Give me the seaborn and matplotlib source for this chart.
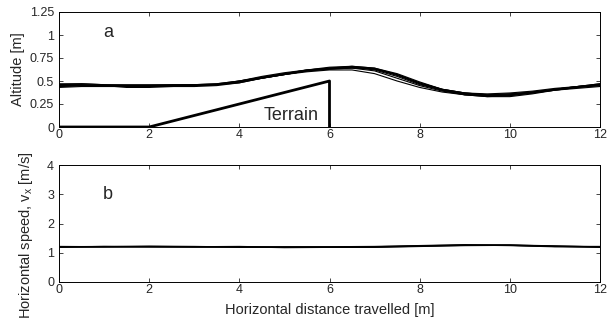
import matplotlib
matplotlib.use("Agg")
import matplotlib.pyplot as plt
import seaborn as sns
import pandas as pd

# ---- data ----
x_alt = [0, 0.5, 1, 1.5, 2, 2.5, 3, 3.5, 4, 4.5, 5, 5.5, 6, 6.5, 7, 7.5, 8, 8.5, 9, 9.5, 10, 10.5, 11, 11.5, 12]
alt_run1 = [0.45, 0.46, 0.45, 0.44, 0.44, 0.45, 0.45, 0.46, 0.49, 0.54, 0.58, 0.62, 0.64, 0.65, 0.63, 0.56, 0.47, 0.40, 0.36, 0.34, 0.35, 0.38, 0.41, 0.43, 0.46]
alt_run2 = [0.47, 0.47, 0.46, 0.46, 0.46, 0.46, 0.46, 0.47, 0.50, 0.54, 0.58, 0.61, 0.63, 0.64, 0.63, 0.57, 0.48, 0.41, 0.37, 0.35, 0.36, 0.38, 0.41, 0.44, 0.47]
alt_run3 = [0.44, 0.45, 0.45, 0.43, 0.43, 0.44, 0.44, 0.45, 0.48, 0.53, 0.57, 0.61, 0.63, 0.64, 0.61, 0.53, 0.45, 0.39, 0.35, 0.33, 0.34, 0.37, 0.40, 0.43, 0.45]
alt_run4 = [0.46, 0.47, 0.46, 0.45, 0.45, 0.46, 0.46, 0.46, 0.49, 0.53, 0.57, 0.61, 0.64, 0.66, 0.64, 0.58, 0.49, 0.41, 0.37, 0.35, 0.36, 0.38, 0.41, 0.44, 0.46]
alt_run5 = [0.43, 0.44, 0.44, 0.44, 0.44, 0.44, 0.45, 0.46, 0.49, 0.53, 0.57, 0.60, 0.62, 0.62, 0.58, 0.50, 0.43, 0.38, 0.35, 0.34, 0.35, 0.37, 0.40, 0.42, 0.44]
alt_run6 = [0.46, 0.46, 0.45, 0.45, 0.44, 0.45, 0.45, 0.46, 0.50, 0.55, 0.59, 0.62, 0.65, 0.66, 0.64, 0.57, 0.47, 0.40, 0.35, 0.33, 0.33, 0.36, 0.40, 0.43, 0.45]
alt_run7 = [0.45, 0.45, 0.45, 0.44, 0.45, 0.45, 0.46, 0.47, 0.50, 0.54, 0.58, 0.62, 0.64, 0.65, 0.62, 0.55, 0.46, 0.40, 0.36, 0.34, 0.34, 0.37, 0.41, 0.44, 0.47]
alt_run8 = [0.44, 0.45, 0.45, 0.45, 0.45, 0.45, 0.45, 0.46, 0.48, 0.53, 0.57, 0.61, 0.63, 0.65, 0.63, 0.57, 0.48, 0.41, 0.37, 0.36, 0.37, 0.39, 0.42, 0.44, 0.46]
alt_runs = [alt_run1, alt_run2, alt_run3, alt_run4, alt_run5, alt_run6, alt_run7, alt_run8]

terrain_x = [0, 2, 6, 6]
terrain_y = [0, 0, 0.5, 0]

x_spd = [0, 1, 2, 3, 4, 5, 6, 7, 8, 9, 10, 11, 12]
spd_run1 = [1.20, 1.21, 1.21, 1.20, 1.20, 1.19, 1.19, 1.20, 1.23, 1.26, 1.26, 1.22, 1.20]
spd_run2 = [1.21, 1.20, 1.22, 1.21, 1.19, 1.20, 1.20, 1.21, 1.24, 1.27, 1.25, 1.21, 1.21]
spd_run3 = [1.19, 1.21, 1.20, 1.20, 1.21, 1.18, 1.19, 1.19, 1.22, 1.25, 1.26, 1.23, 1.19]
spd_runs = [spd_run1, spd_run2, spd_run3]

xticks = [0, 2, 4, 6, 8, 10, 12]
alt_ticks = [0, 0.25, 0.5, 0.75, 1, 1.25]
alt_ticklabels = ["0", "0.25", "0.5", "0.75", "1", "1.25"]
spd_ticks = [0, 1, 2, 3, 4]

# ---- styling ----
sns.set_style("white")
plt.rcParams["font.family"] = ["Liberation Sans", "DejaVu Sans"]
plt.rcParams["xtick.direction"] = "in"
plt.rcParams["ytick.direction"] = "in"
plt.rcParams["mathtext.fontset"] = "custom"
plt.rcParams["mathtext.rm"] = "Liberation Sans"
plt.rcParams["mathtext.it"] = "Liberation Sans"

fig = plt.figure(figsize=(6.14, 3.2), dpi=100)
ax1 = fig.add_axes([59 / 614, 1 - 127 / 320, 541 / 614, 115 / 320])
ax2 = fig.add_axes([59 / 614, 1 - 282 / 320, 541 / 614, 117 / 320])

for i, run in enumerate(alt_runs):
    df = pd.DataFrame({"x": x_alt, "y": run})
    sns.lineplot(data=df, x="x", y="y", ax=ax1, color="black", lw=0.8, estimator=None)
sns.lineplot(x=terrain_x, y=terrain_y, ax=ax1, color="black", lw=2.0, sort=False, estimator=None)

for run in spd_runs:
    df = pd.DataFrame({"x": x_spd, "y": run})
    sns.lineplot(data=df, x="x", y="y", ax=ax2, color="black", lw=1.1, estimator=None)

ax1.set_xlim(0, 12)
ax1.set_ylim(0, 1.25)
ax1.set_xticks(xticks)
ax1.set_yticks(alt_ticks)
ax1.set_yticklabels(alt_ticklabels)
ax1.set_xlabel("")
ax1.set_ylabel("Altitude [m]", fontsize=10.5)
ax1.yaxis.set_label_coords(-0.063, 0.5)
ax1.text(1.09, 1.03, "a", fontsize=13, va="center", ha="center")
ax1.text(5.15, 0.12, "Terrain", fontsize=13, va="center", ha="center")

ax2.set_xlim(0, 12)
ax2.set_ylim(0, 4)
ax2.set_xticks(xticks)
ax2.set_yticks(spd_ticks)
ax2.set_xlabel("Horizontal distance travelled [m]", fontsize=10.5)
ax2.xaxis.set_label_coords(0.5, -0.18)
ax2.set_ylabel("Horizontal speed, v$_{\\mathrm{x}}$ [m/s]", fontsize=10.5)
ax2.yaxis.set_label_coords(-0.044, 0.4)
ax2.text(1.09, 3.0, "b", fontsize=13, va="center", ha="center")

for ax in (ax1, ax2):
    ax.tick_params(labelsize=9, length=3, width=0.6, top=True, right=True,
                   bottom=True, left=True)
    ax.tick_params(axis="x", pad=1.5)
    ax.tick_params(axis="y", pad=3.5)
    for s in ax.spines.values():
        s.set_linewidth(0.7)
        s.set_color("black")

fig.savefig("out.png", dpi=100)
